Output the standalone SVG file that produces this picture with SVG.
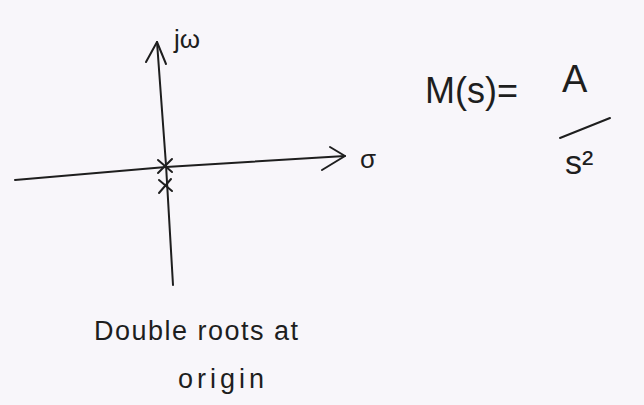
<svg xmlns="http://www.w3.org/2000/svg" width="644" height="405" viewBox="0 0 644 405">
<style>
.ln{fill:none;stroke:#1e1e1e;stroke-width:2;stroke-linecap:round;stroke-linejoin:round}
.t{font-family:"Liberation Sans","DejaVu Sans",sans-serif;fill:#1e1e1e}
</style>
<rect width="644" height="405" fill="#f8f6fa"/>
<g id="connectors">
<path id="imag-axis" class="ln" d="M157 42 L166 165 L173 285"/>
<path class="ln" d="M146 62 L157 42 L166 64"/>
<path id="real-axis" class="ln" d="M15 180 L166 167 L345 156"/>
<path class="ln" d="M330 147 L345 156 L322 170"/>
</g>
<g id="poles">
<path class="ln" d="M158 160 L172 172 M172 159 L158 173"/>
<path class="ln" d="M159 180 L172 191 M171 179 L159 193"/>
</g>
<g id="labels">
<text class="t" x="174" y="48" font-size="26">jω</text>
<text class="t" x="360" y="168" font-size="26">σ</text>
<text class="t" x="425" y="103" font-size="36">M(s)=</text>
<text class="t" x="562" y="92" font-size="38">A</text>
<path class="ln" d="M560 138 L610 118"/>
<text class="t" x="565" y="174" font-size="34">s²</text>
<text class="t" x="94" y="340" font-size="27" letter-spacing="1.5">Double roots at</text>
<text class="t" x="178" y="388" font-size="27" letter-spacing="4">origin</text>
</g>
</svg>
